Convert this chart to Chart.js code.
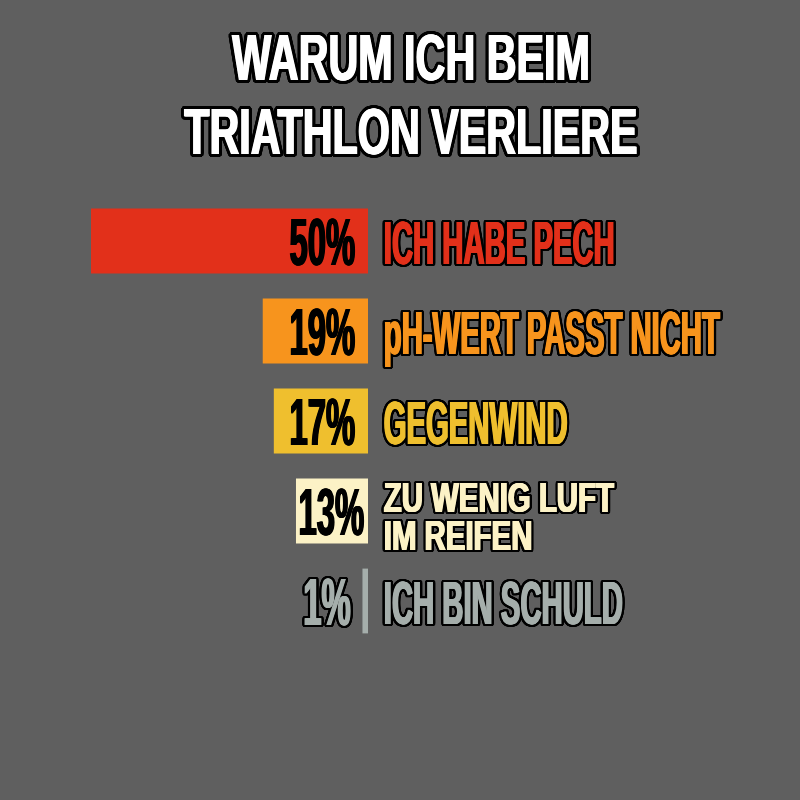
<!DOCTYPE html>
<html lang="de">
<head>
  <meta charset="UTF-8">
  <title>Warum ich beim Triathlon verliere</title>
  <script src="https://cdn.jsdelivr.net/npm/chart.js"></script>
  <style>
    body { margin: 0; background: #5f5f5f; }
    #wrap { width: 800px; height: 800px; }
  </style>
</head>
<body>
  <div id="wrap"><canvas id="chart" width="800" height="800"></canvas></div>

  <script>
    const titleLines = ['WARUM ICH BEIM', 'TRIATHLON VERLIERE'];
    const reasons = ['ICH HABE PECH', 'pH-WERT PASST NICHT', 'GEGENWIND', ['ZU WENIG LUFT', 'IM REIFEN'], 'ICH BIN SCHULD'];
    const shares = [50, 19, 17, 13, 1];
    const barColors = ['#e2301a', '#f7941d', '#efbf2e', '#fcf2c6', '#a5aeab'];

    const FONT = '"Liberation Sans", Arial, sans-serif';

    // bold text squeezed horizontally, with optional black outline
    // (smeared a little sideways so the stems look heavier)
    function squeezed(ctx, text, x, y, size, sx, fill, outline, align) {
      const smear = 1.5;
      ctx.save();
      ctx.font = 'bold ' + size + 'px ' + FONT;
      ctx.textBaseline = 'alphabetic';
      const w = ctx.measureText(text).width * sx + smear;
      let left = x;
      if (align === 'right') left = x - w;
      else if (align === 'center') left = x - w / 2;
      const draw = (dx, dy, color) => {
        for (let s = 0; s <= smear; s += 0.5) {
          ctx.save();
          ctx.translate(left + dx + s, y + dy);
          ctx.scale(sx, 1);
          ctx.fillStyle = color;
          ctx.fillText(text, 0, 0);
          ctx.restore();
        }
      };
      if (outline) {
        for (let a = 0; a < 24; a++) {
          const t = a / 24 * Math.PI * 2;
          draw(Math.cos(t) * outline, Math.sin(t) * outline, '#000');
        }
      }
      draw(0, 0, fill);
      ctx.restore();
      return w;
    }

    function textWidth(ctx, text, size, sx) {
      ctx.save();
      ctx.font = 'bold ' + size + 'px ' + FONT;
      const w = ctx.measureText(text).width * sx + 1.5;
      ctx.restore();
      return w;
    }

    const titlePlugin = {
      id: 'posterTitle',
      afterDraw(chart) {
        const ctx = chart.ctx;
        squeezed(ctx, titleLines[0], 411, 80, 64, 0.645, '#ffffff', 3, 'center');
        squeezed(ctx, titleLines[1], 411, 154, 64, 0.645, '#ffffff', 3, 'center');
      }
    };

    const labelPlugin = {
      id: 'barLabels',
      afterDatasetsDraw(chart) {
        const ctx = chart.ctx;
        const meta = chart.getDatasetMeta(0);
        meta.data.forEach((bar, i) => {
          const p = bar.getProps(['x', 'y', 'base'], true);
          const barW = p.base - p.x;
          const pct = shares[i] + '%';
          const pw = textWidth(ctx, pct, 67, 0.49);
          // percent value
          if (barW >= pw) {
            const gap = Math.max(3, Math.min(12, barW - pw - 3));
            squeezed(ctx, pct, p.base - gap, p.y + 24, 67, 0.49, '#000', 0, 'right');
          } else {
            squeezed(ctx, pct, p.x - 11, p.y + 24, 67, 0.49, barColors[i], 2.2, 'right');
          }
          // reason text
          const lbl = reasons[i];
          const lx = p.base + 15;
          if (Array.isArray(lbl)) {
            lbl.forEach((line, k) => {
              squeezed(ctx, line, lx, p.y + 1 + k * 38, 42, 0.7, barColors[i], 2.2, 'left');
            });
          } else {
            squeezed(ctx, lbl, lx, p.y + 23, 61, 0.48, barColors[i], 2.2, 'left');
          }
        });
      }
    };

    new Chart(document.getElementById('chart').getContext('2d'), {
      type: 'bar',
      data: {
        labels: reasons,
        datasets: [{
          data: shares,
          backgroundColor: barColors,
          borderWidth: 0,
          barPercentage: 0.72,
          categoryPercentage: 1
        }]
      },
      options: {
        indexAxis: 'y',
        responsive: false,
        animation: false,
        layout: { padding: { left: 91, right: 432, top: 196, bottom: 154 } },
        scales: {
          x: { reverse: true, min: 0, max: 50, display: false },
          y: { display: false }
        },
        plugins: {
          legend: { display: false },
          tooltip: { enabled: false },
          title: { display: false }
        }
      },
      plugins: [titlePlugin, labelPlugin]
    });
  </script>
</body>
</html>
